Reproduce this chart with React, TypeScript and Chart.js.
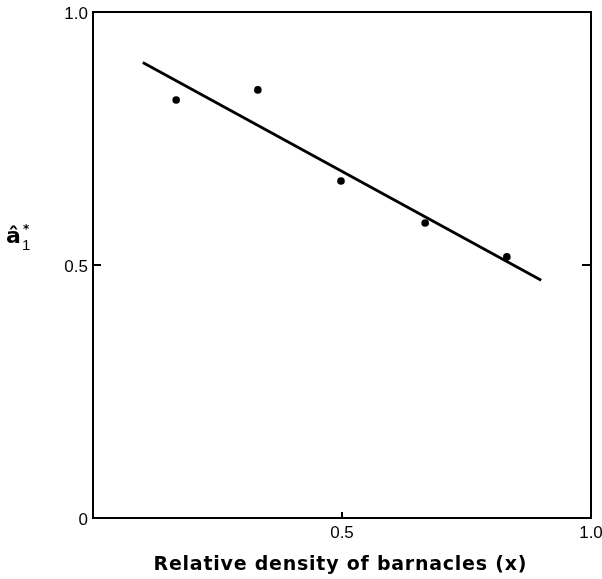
import React, { useEffect, useRef } from 'react';
import { Chart, registerables } from 'chart.js';

Chart.register(...registerables);

// Observed points (relative density of barnacles vs estimate)
const pointX = [0.167, 0.331, 0.498, 0.667, 0.831];
const pointY = [0.826, 0.846, 0.666, 0.583, 0.516];

// Fitted regression line end points
const lineX = [0.1, 0.9];
const lineY = [0.9, 0.47];

// Tick labels
const xTicks = [0.5, 1.0];
const xTickLabels = ['0.5', '1.0'];
const yTicks = [0, 0.5, 1.0];
const yTickLabels = ['0', '0.5', '1.0'];

const xTitle = 'Relative density of barnacles (x)';
const yTitleMain = '\u00e2';
const yTitleSup = '*';
const yTitleSub = '1';

const framePlugin = {
  id: 'frameAndLabels',
  afterDraw(chart: any) {
    const { ctx, chartArea: a, scales } = chart;
    const x = scales.x;
    const y = scales.y;
    ctx.save();
    ctx.strokeStyle = '#000';
    ctx.fillStyle = '#000';
    ctx.lineWidth = 2;
    ctx.strokeRect(a.left, a.top, a.right - a.left, a.bottom - a.top);

    const seg = (x1: number, y1: number, x2: number, y2: number) => {
      ctx.beginPath();
      ctx.moveTo(x1, y1);
      ctx.lineTo(x2, y2);
      ctx.stroke();
    };
    // inward tick marks at 0.5
    const yp = y.getPixelForValue(0.5);
    seg(a.left, yp, a.left + 8, yp);
    seg(a.right - 9, yp, a.right, yp);
    const xp = x.getPixelForValue(0.5);
    seg(xp, a.bottom, xp, a.bottom - 6);

    // tick labels
    ctx.font = '17px "Liberation Sans", Arial, sans-serif';
    ctx.textAlign = 'right';
    ctx.textBaseline = 'middle';
    yTicks.forEach((v, i) => {
      ctx.fillText(yTickLabels[i], a.left - 5, y.getPixelForValue(v) + 2);
    });
    ctx.textAlign = 'center';
    ctx.textBaseline = 'top';
    xTicks.forEach((v, i) => {
      ctx.fillText(xTickLabels[i], x.getPixelForValue(v), a.bottom + 7);
    });

    // x title
    ctx.font = 'bold 19px "DejaVu Sans", "Liberation Sans", sans-serif';
    const targetW = 373;
    (ctx as any).letterSpacing = '0px';
    const w = ctx.measureText(xTitle).width;
    const sp = Math.max(0, (targetW - w) / (xTitle.length - 1));
    (ctx as any).letterSpacing = sp.toFixed(2) + 'px';
    ctx.textAlign = 'left';
    ctx.textBaseline = 'middle';
    const cx = (a.left + a.right) / 2;
    ctx.fillText(xTitle, cx - targetW / 2 - 2, a.bottom + 47);
    (ctx as any).letterSpacing = '0px';

    // y title
    const ym = y.getPixelForValue(0.5);
    ctx.font = 'bold 22px "DejaVu Sans", "Liberation Sans", sans-serif';
    ctx.textAlign = 'left';
    ctx.textBaseline = 'alphabetic';
    ctx.fillText(yTitleMain, 6, ym - 22);
    ctx.font = 'bold 12px "DejaVu Sans", "Liberation Sans", sans-serif';
    ctx.fillText(yTitleSup, 23, ym - 32);
    ctx.font = '15px "Liberation Sans", Arial, sans-serif';
    ctx.fillText(yTitleSub, 22, ym - 15);
    ctx.restore();
  },
};

export default function App() {
  const ref = useRef<HTMLCanvasElement | null>(null);
  useEffect(() => {
    if (!ref.current) return;
    const chart = new Chart(ref.current, {
      type: 'scatter',
      data: {
        datasets: [
          {
            label: 'fit',
            data: lineX.map((v, i) => ({ x: v, y: lineY[i] })),
            showLine: true,
            borderColor: '#000',
            borderWidth: 2.8,
            pointRadius: 0,
            fill: false,
          },
          {
            label: 'observed',
            data: pointX.map((v, i) => ({ x: v, y: pointY[i] })),
            backgroundColor: '#000',
            borderColor: '#000',
            borderWidth: 0,
            pointRadius: 3.8,
          },
        ],
      },
      options: {
        responsive: false,
        animation: false,
        layout: { padding: { left: 93, right: 11, top: 12, bottom: 61 } },
        scales: {
          x: { type: 'linear', min: 0, max: 1, display: false },
          y: { type: 'linear', min: 0, max: 1, display: false },
        },
        plugins: { legend: { display: false }, tooltip: { enabled: false } },
      },
      plugins: [framePlugin],
    });
    return () => chart.destroy();
  }, []);
  return (
    <div style={{ position: 'fixed', left: 0, top: 0, width: 602, height: 579, background: '#fff' }}>
      <canvas ref={ref} width={602} height={579} style={{ display: 'block' }} />
    </div>
  );
}
